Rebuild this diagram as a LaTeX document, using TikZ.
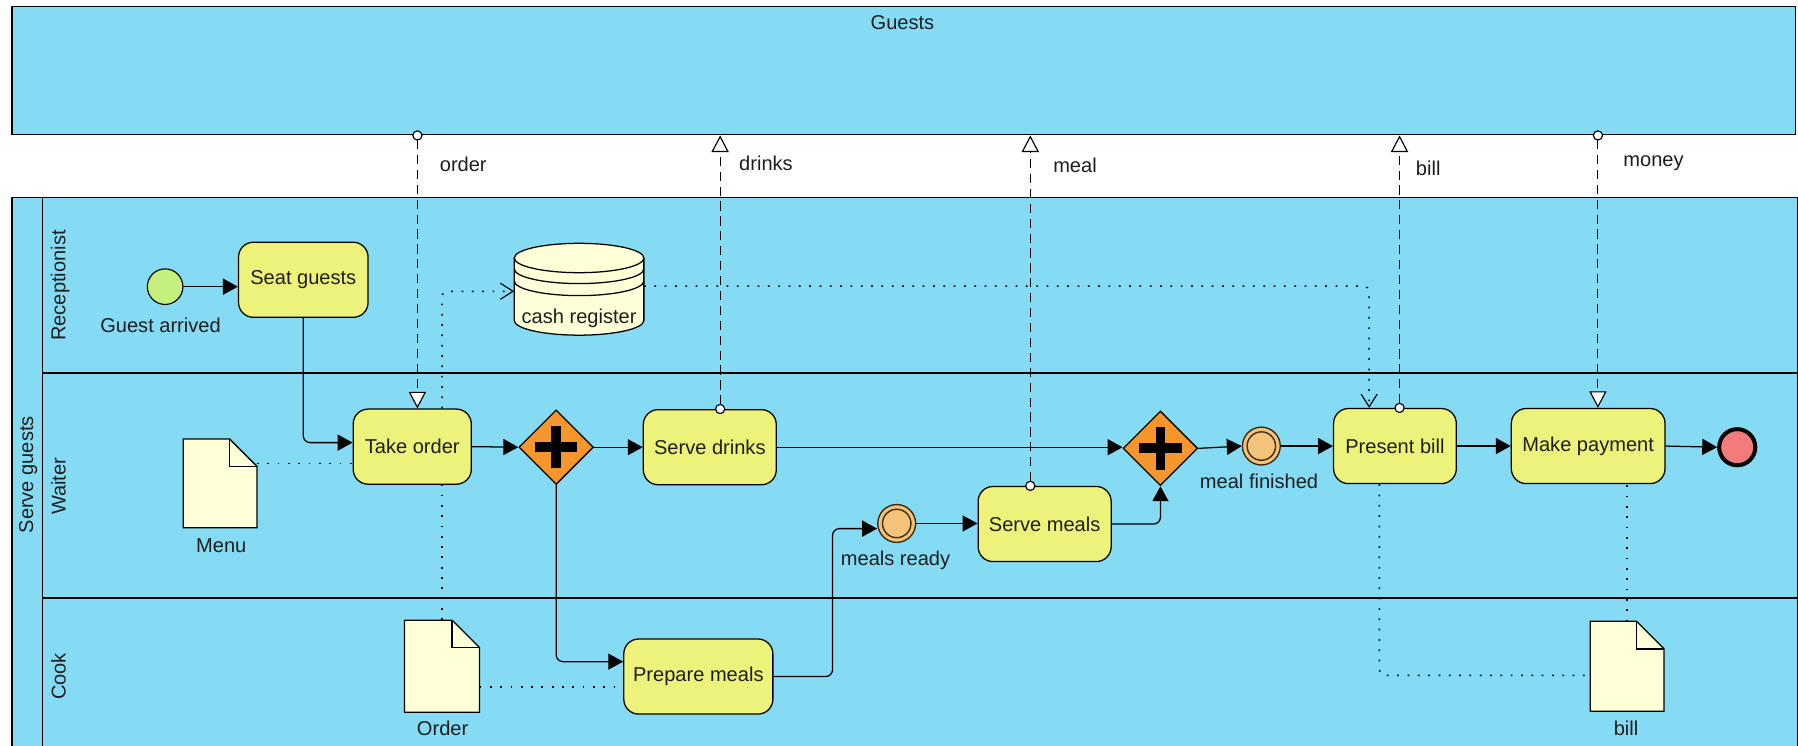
\documentclass[tikz,border=0pt]{standalone}
\usepackage{fontspec}
\setmainfont{Liberation Sans}
\usetikzlibrary{arrows.meta,shapes.geometric,calc}

\definecolor{poolblue}{HTML}{86DBF4}
\definecolor{taskyellow}{HTML}{EDF27B}
\definecolor{docfill}{HTML}{FFFFD8}
\definecolor{startgreen}{HTML}{C6F07E}
\definecolor{midorange}{HTML}{F5C27A}
\definecolor{midring}{HTML}{3A2A12}
\definecolor{gateorange}{HTML}{F7962D}
\definecolor{endred}{HTML}{F27C7C}
\definecolor{inkgray}{HTML}{1E1E1E}

% folded-corner data object drawn over an empty named node
\newcommand\paperdoc[1]{%
  \draw[docline] (#1.south west) -- (#1.north west) -- ([xshift=-24pt]#1.north east)
    -- ([yshift=-24pt]#1.north east) -- (#1.south east) -- cycle;
  \draw[docline, fill=none, line width=1.4pt] ([xshift=-24pt]#1.north east)
    -- ([xshift=-24pt,yshift=-24pt]#1.north east) -- ([yshift=-24pt]#1.north east);}

\begin{document}
\begin{tikzpicture}[x=1pt, y=-1pt,
  every node/.style={font=\fontsize{17.5}{21}\selectfont, text=inkgray, inner sep=0pt},
  pool/.style={draw, fill=poolblue, line width=1.1pt, rectangle, anchor=north west},
  task/.style={draw, fill=taskyellow, rounded corners=13pt, line width=1.1pt,
    minimum width=#1, minimum height=65.5pt},
  gate/.style={diamond, draw, fill=gateorange, line width=1.1pt, minimum width=65pt,
    minimum height=65pt, path picture={
      \draw[line width=8.5pt, black]
        ([xshift=-18.5pt]path picture bounding box.center) -- ([xshift=18.5pt]path picture bounding box.center)
        ([yshift=-18.5pt]path picture bounding box.center) -- ([yshift=18.5pt]path picture bounding box.center);}},
  startev/.style={circle, draw, fill=startgreen, line width=1pt, minimum size=31pt},
  midev/.style={circle, draw=midring, fill=midorange, line width=1.2pt, minimum size=33pt,
    path picture={\draw[line width=1.2pt, midring] (path picture bounding box.center) circle[radius=12.4pt];}},
  endev/.style={circle, draw, fill=endred, line width=3.5pt, minimum size=31.5pt},
  docbox/.style={rectangle, minimum width=#1},
  docline/.style={draw=black, fill=docfill, line width=1.1pt, line join=miter},
  seq/.style={draw, line width=1.1pt, -{Triangle[length=13pt, width=14pt]}},
  msg/.style={draw, line width=1pt, dash pattern=on 8pt off 5pt,
    {Circle[fill=white, length=9pt, width=9pt]}-{Triangle[fill=white, length=14.5pt, width=15pt]},
    shorten <=-4.5pt},
  assoc/.style={draw, line width=1.3pt, dash pattern=on 1.5pt off 7.5pt},
  assocarrow/.style={assoc, -{Straight Barb[length=11pt, width=14pt, line width=1pt]}}
]
\useasboundingbox (0,0) rectangle (1568,650);
\fill[white] (0,0) rectangle (1568,650);
\clip (0,0) rectangle (1568,650);

% ---------- pools and lanes ----------
\node[pool, minimum width=1555pt, minimum height=112pt] (guests) at (10,5) {};
\node (guestsname) at (787,20) {Guests};

\node[pool, minimum width=1557pt, minimum height=490pt] (serve) at (10,172) {};
\draw[line width=1.1pt] (37,172) -- (37,662);
\draw[line width=2pt] (37,325.5) -- (1567,325.5);
\draw[line width=1.1pt] (37,521.5) -- (1567,521.5);
\node[rotate=90] (poolname) at (24.5,414) {Serve guests};
\node[rotate=90] (lanerec) at (52.5,249) {Receptionist};
\node[rotate=90] (lanewait) at (51,424) {Waiter};
\node[rotate=90] (lanecook) at (51,590) {Cook};

% ---------- flow objects ----------
\node[startev] (start) at (144,250) {};
\node (startlbl) at (140,283.5) {Guest arrived};

\node[task=113pt] (seat) at (264.5,244) {Seat guests};
\node[task=103pt] (take) at (359.5,389.5) {Take order};
\node[gate] (gw1) at (485,390) {};
\node[task=116pt] (drinks) at (619,390) {Serve drinks};
\node[task=130pt] (prep) at (609,590) {Prepare meals};
\node[midev] (mready) at (782,456.5) {};
\node (mreadylbl) at (781,488.5) {meals ready};
\node[task=116pt] (smeals) at (911,457) {Serve meals};
\node[gate] (gw2) at (1012,391) {};
\node[midev] (mfin) at (1100,389) {};
\node (mfinlbl) at (1098,420) {meal finished};
\node[task=107pt] (pbill) at (1216.5,389) {Present bill};
\node[task=134pt] (pay) at (1385,389) {Make payment};
\node[endev] (finish) at (1515,390) {};

% ---------- data objects ----------
\node[docbox=64pt, minimum height=77pt] (menu) at (192,421.5) {};
\paperdoc{menu}
\node (menulbl) at (193,476) {Menu};

\node[docbox=65pt, minimum height=80pt] (orderdoc) at (385.5,581) {};
\paperdoc{orderdoc}
\node (orderlbl) at (386,635.5) {Order};

\node[docbox=64pt, minimum height=78pt] (billdoc) at (1419,581) {};
\paperdoc{billdoc}
\node (billlbl) at (1418,635) {bill};

% data store
\node[rectangle, minimum width=113pt, minimum height=81pt] (cash) at (505,252) {};
\path[docline] (448.5,225) -- (448.5,279.5)
  arc[start angle=180, end angle=0, x radius=56.5, y radius=12.8] -- (561.5,225)
  arc[start angle=0, end angle=-180, x radius=56.5, y radius=12.8] -- cycle;
\draw[line width=1.1pt] (448.5,225) arc[start angle=180, end angle=0, x radius=56.5, y radius=12.8];
\draw[line width=1.1pt] (448.5,234.5) arc[start angle=180, end angle=0, x radius=56.5, y radius=12.8];
\draw[line width=1.1pt] (448.5,245) arc[start angle=180, end angle=0, x radius=56.5, y radius=12.8];
\node (cashlbl) at (505,277.5) {cash register};

% ---------- sequence flows ----------
\draw[seq] (start) -- (start -| seat.west);
\draw[seq, rounded corners=6pt] (seat.south) |- ([yshift=3.5pt]take.west);
\draw[seq] (take.east) -- (gw1.west);
\draw[seq] (gw1.east) -- (drinks.west);
\draw[seq, rounded corners=6pt] (gw1.south) |- ([yshift=13pt]prep.west);
\draw[seq, rounded corners=6pt] (prep.east) -- ++(51.5,0) |- ([yshift=-4.5pt]mready.west);
\draw[seq] (mready.east) -- (mready.east -| smeals.west);
\draw[seq, rounded corners=6pt] (smeals.east) -| (gw2.south);
\draw[seq] (drinks.east) -- (drinks.east -| gw2.west);
\draw[seq] (gw2.east) -- (mfin.west);
\draw[seq] (mfin.east) -- (pbill.west);
\draw[seq] (pbill.east) -- (pay.west);
\draw[seq] (pay.east) -- (finish.west);

% ---------- associations ----------
\draw[assoc] (menu.east |- 0,404) -- (take.west |- 0,404);
\draw[assoc] (orderdoc.north) -- (orderdoc.north |- take.south);
\draw[assoc] (orderdoc.east |- 0,599) -- (prep.west |- 0,599);
\draw[assocarrow, rounded corners=5pt] (take.north -| orderdoc.north) |- (cash.west |- 0,254);
\draw[assocarrow, rounded corners=5pt] (cash.east |- 0,249.5) -| ([xshift=-22.5pt]pbill.north);
\draw[assoc, rounded corners=5pt] ([xshift=-13.5pt]pbill.south) |- (billdoc.west |- 0,589);
\draw[assoc] (billdoc.north) -- (billdoc.north |- pay.south);

% ---------- message flows ----------
\draw[msg] (guests.south -| 364,0) -- (take.north -| 364,0);
\draw[msg] (drinks.north -| 628,0) -- (guests.south -| 628,0);
\draw[msg] (smeals.north -| 898.5,0) -- (guests.south -| 898.5,0);
\draw[msg] (pbill.north -| 1220.5,0) -- (guests.south -| 1220.5,0);
\draw[msg] (guests.south -| 1393.5,0) -- (pay.north -| 1393.5,0);

\node (msgorder) at (404,143) {order};
\node (msgdrinks) at (668,142.5) {drinks};
\node (msgmeal) at (937.5,144) {meal};
\node (msgbill) at (1245.5,147) {bill};
\node (msgmoney) at (1442,142) {money};
\end{tikzpicture}
\end{document}
